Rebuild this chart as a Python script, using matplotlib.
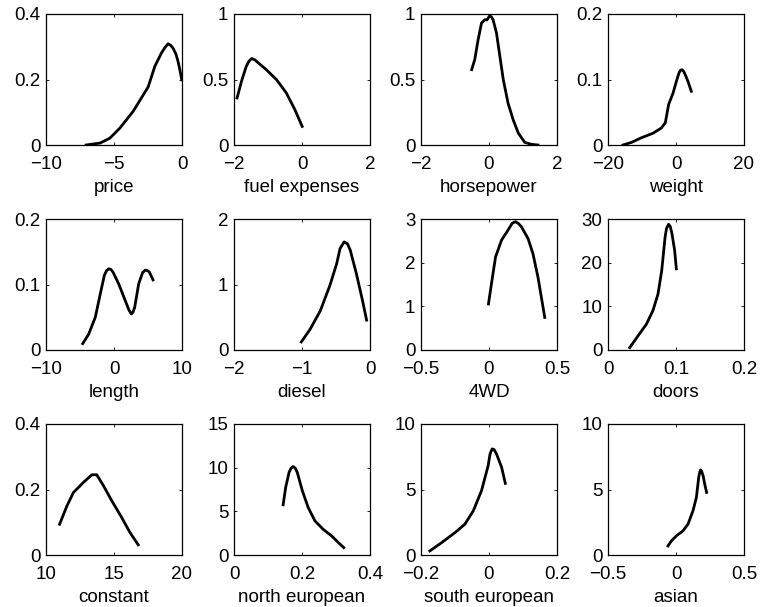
import matplotlib
matplotlib.use("Agg")
import matplotlib.pyplot as plt

plt.rcParams['font.family'] = ['Liberation Sans', 'DejaVu Sans']
plt.rcParams['font.size'] = 13.5

labels = ["price", "fuel expenses", "horsepower", "weight",
          "length", "diesel", "4WD", "doors",
          "constant", "north european", "south european", "asian"]

price_x = [-7.05, -6.02, -5.3, -4.56, -3.59, -2.49, -2.0, -1.51, -1.25, -1.02, -0.85, -0.66, -0.45, -0.29, -0.15, -0.02]
price_y = [0.0, 0.006, 0.021, 0.052, 0.103, 0.177, 0.240, 0.281, 0.298, 0.309, 0.305, 0.296, 0.278, 0.255, 0.228, 0.199]

fuel_x = [-1.91, -1.78, -1.64, -1.56, -1.48, -1.40, -1.34, -1.05, -0.75, -0.46, -0.21, 0.005]
fuel_y = [0.359, 0.486, 0.60, 0.64, 0.66, 0.652, 0.639, 0.575, 0.499, 0.397, 0.27, 0.142]

hp_x = [-0.51, -0.42, -0.32, -0.22, -0.12, -0.06, 0.02, 0.07, 0.12, 0.22, 0.32, 0.42, 0.56, 0.71, 0.86, 1.05, 1.25, 1.44]
hp_y = [0.575, 0.651, 0.804, 0.931, 0.957, 0.955, 0.987, 0.978, 0.957, 0.855, 0.677, 0.499, 0.32, 0.193, 0.092, 0.02, 0.005, 0.0]

weight_x = [-15.6, -13.1, -10.2, -6.76, -4.3, -3.14, -2.16, -0.88, 0.1, 0.88, 1.3, 1.76, 2.3, 2.75, 3.53, 4.5]
weight_y = [0.0, 0.004, 0.011, 0.018, 0.026, 0.034, 0.062, 0.079, 0.097, 0.110, 0.114, 0.115, 0.112, 0.107, 0.097, 0.082]

length_x = [-4.6, -3.73, -2.75, -2.01, -1.42, -1.1, -0.78, -0.45, -0.15, 0.69, 1.67, 2.2, 2.55, 2.8, 3.04, 3.63, 4.2, 4.6, 4.95, 5.2, 5.74]
length_y = [0.0097, 0.024, 0.05, 0.086, 0.114, 0.121, 0.124, 0.123, 0.119, 0.101, 0.075, 0.061, 0.055, 0.058, 0.065, 0.101, 0.118, 0.122, 0.121, 0.119, 0.107]

diesel_x = [-1.01, -0.88, -0.73, -0.59, -0.49, -0.44, -0.38, -0.33, -0.29, -0.2, -0.11, -0.05]
diesel_y = [0.123, 0.318, 0.6, 0.985, 1.318, 1.55, 1.651, 1.62, 1.523, 1.164, 0.754, 0.456]

fwd_x = [-0.004, 0.018, 0.048, 0.092, 0.14, 0.17, 0.194, 0.215, 0.238, 0.287, 0.323, 0.36, 0.41]
fwd_y = [1.054, 1.515, 2.13, 2.515, 2.746, 2.90, 2.938, 2.90, 2.823, 2.554, 2.208, 1.669, 0.746]

doors_x = [0.0319, 0.044, 0.0564, 0.066, 0.0735, 0.079, 0.084, 0.086, 0.089, 0.0915, 0.094, 0.098, 0.1005]
doors_y = [0.54, 3.2, 5.9, 9.0, 12.8, 18.2, 25.9, 27.8, 28.8, 28.3, 26.7, 22.8, 18.6]

const_x = [11.0, 11.54, 12.02, 12.76, 13.37, 13.73, 14.22, 14.83, 15.56, 16.17, 16.78]
const_y = [0.094, 0.150, 0.191, 0.222, 0.245, 0.245, 0.212, 0.166, 0.115, 0.069, 0.031]

north_x = [0.1445, 0.152, 0.162, 0.168, 0.174, 0.18, 0.186, 0.201, 0.218, 0.238, 0.262, 0.287, 0.307, 0.323]
north_y = [5.75, 7.75, 9.47, 9.95, 10.13, 9.95, 9.47, 7.36, 5.45, 3.91, 2.95, 2.19, 1.42, 0.84]

south_x = [-0.174, -0.139, -0.1, -0.071, -0.046, -0.022, -0.0024, 0.003, 0.0093, 0.015, 0.022, 0.037, 0.048]
south_y = [0.31, 0.95, 1.71, 2.35, 3.38, 4.91, 6.83, 7.7, 8.1, 8.05, 7.72, 6.7, 5.47]

asian_x = [-0.059, -0.034, 0.0025, 0.051, 0.088, 0.125, 0.15, 0.167, 0.175, 0.181, 0.188, 0.199, 0.211, 0.225]
asian_y = [0.69, 1.07, 1.46, 1.84, 2.35, 3.38, 4.4, 5.93, 6.35, 6.5, 6.4, 6.06, 5.42, 4.78]

curves = [(price_x, price_y), (fuel_x, fuel_y), (hp_x, hp_y), (weight_x, weight_y),
          (length_x, length_y), (diesel_x, diesel_y), (fwd_x, fwd_y), (doors_x, doors_y),
          (const_x, const_y), (north_x, north_y), (south_x, south_y), (asian_x, asian_y)]

xticks = [[-10, -5, 0], [-2, 0, 2], [-2, 0, 2], [-20, 0, 20],
          [-10, 0, 10], [-2, -1, 0], [-0.5, 0, 0.5], [0, 0.1, 0.2],
          [10, 15, 20], [0, 0.2, 0.4], [-0.2, 0, 0.2], [-0.5, 0, 0.5]]
yticks = [[0, 0.2, 0.4], [0, 0.5, 1], [0, 0.5, 1], [0, 0.1, 0.2],
          [0, 0.1, 0.2], [0, 1, 2], [0, 1, 2, 3], [0, 10, 20, 30],
          [0, 0.2, 0.4], [0, 5, 10, 15], [0, 5, 10], [0, 5, 10]]


def fmt(v):
    return ("%g" % v).replace("-", "\u2212")


fig = plt.figure(figsize=(7.6, 6.07), dpi=100)
lefts = [46, 234, 421, 608]
tops = [14, 219, 424]
W, H = 760.0, 607.0
aw, ah = 136, 131

for i in range(12):
    r, c = divmod(i, 4)
    ax = fig.add_axes([lefts[c] / W, 1 - (tops[r] + ah) / H, aw / W, ah / H])
    x, y = curves[i]
    ax.plot(x, y, color='black', lw=2.0, solid_joinstyle='round')
    xt, yt = xticks[i], yticks[i]
    ax.set_xlim(xt[0], xt[-1])
    ax.set_ylim(yt[0], yt[-1])
    ax.set_xticks(xt)
    ax.set_yticks(yt)
    ax.set_xticklabels([fmt(v) for v in xt])
    ax.set_yticklabels([fmt(v) for v in yt])
    ax.tick_params(direction='in', length=2.5, width=0.6, top=True, right=True,
                   labelsize=13.5)
    ax.tick_params(axis='x', pad=8)
    ax.tick_params(axis='y', pad=4)
    for s in ax.spines.values():
        s.set_linewidth(0.9)
    ax.set_xlabel(labels[i], fontsize=13.5, labelpad=4)

fig.savefig("out.png", dpi=100)
